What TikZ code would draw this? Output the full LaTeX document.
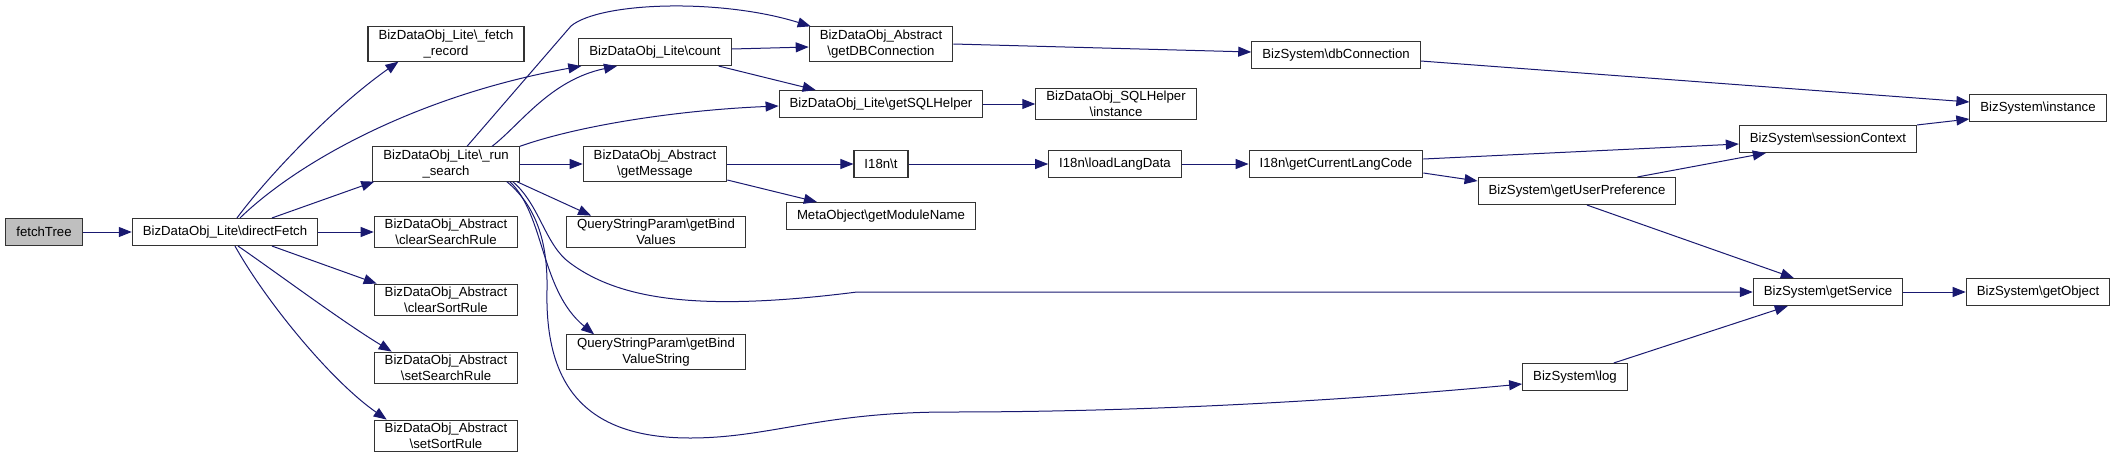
\documentclass[tikz,border=0pt]{standalone}
\usepackage{fontspec}
\setmainfont{Liberation Sans}
\usetikzlibrary{arrows.meta}
\definecolor{edgeblue}{HTML}{191970}
\definecolor{boxline}{HTML}{333333}
\definecolor{rootgray}{HTML}{BFBFBF}
\newcommand{\bs}{\textbackslash}

\begin{document}
\begin{tikzpicture}[
    x=1pt, y=-1pt,
    fbox/.style={
      draw=boxline, line width=1.1pt, fill=white, align=center,
      inner xsep=10.5pt, inner ysep=3pt, minimum height=27pt,
      font=\fontsize{13.2}{16}\selectfont
    },
    rootbox/.style={fbox, fill=rootgray},
    arr/.style={-{Triangle[length=13pt,width=10pt]}, line width=1pt, edgeblue},
  ]
    \useasboundingbox (0,0) rectangle (2117,464);

    \node[rootbox] (ft) at (44,232) {fetchTree};
    \node[fbox] (df) at (225,232) {BizDataObj\_Lite\bs directFetch};

    \node[fbox] (fr) at (446,44) {BizDataObj\_Lite\bs\_fetch\\\_record};
    \node[fbox] (rs) at (446,164) {BizDataObj\_Lite\bs\_run\\\_search};
    \node[fbox] (csr) at (446,232) {BizDataObj\_Abstract\\\bs clearSearchRule};
    \node[fbox] (cso) at (446,300) {BizDataObj\_Abstract\\\bs clearSortRule};
    \node[fbox] (ssr) at (446,368) {BizDataObj\_Abstract\\\bs setSearchRule};
    \node[fbox] (sso) at (446,436) {BizDataObj\_Abstract\\\bs setSortRule};

    \node[fbox] (cnt) at (655,52) {BizDataObj\_Lite\bs count};
    \node[fbox] (gm) at (655,164) {BizDataObj\_Abstract\\\bs getMessage};
    \node[fbox] (bv) at (656,232) {QueryStringParam\bs getBind\\Values};
    \node[fbox] (bvs) at (656,352) {QueryStringParam\bs getBind\\ValueString};

    \node[fbox] (gdb) at (881,44) {BizDataObj\_Abstract\\\bs getDBConnection};
    \node[fbox] (gsh) at (881,104) {BizDataObj\_Lite\bs getSQLHelper};
    \node[fbox] (t) at (881,164) {I18n\bs t};
    \node[fbox] (mod) at (881,216) {MetaObject\bs getModuleName};

    \node[fbox] (shi) at (1116,104) {BizDataObj\_SQLHelper\\\bs instance};
    \node[fbox] (lld) at (1115,164) {I18n\bs loadLangData};

    \node[fbox] (dbc) at (1336,55) {BizSystem\bs dbConnection};
    \node[fbox] (glc) at (1336,164) {I18n\bs getCurrentLangCode};

    \node[fbox] (gup) at (1577,191) {BizSystem\bs getUserPreference};
    \node[fbox] (log) at (1575,377) {BizSystem\bs log};

    \node[fbox] (sc) at (1828,139) {BizSystem\bs sessionContext};
    \node[fbox] (gs) at (1828,292) {BizSystem\bs getService};

    \node[fbox] (inst) at (2038,108) {BizSystem\bs instance};
    \node[fbox] (go) at (2038,292) {BizSystem\bs getObject};

    \draw[arr] (ft) -- (df);
    \draw[arr] ([xshift=12pt]df.north) .. controls (265,180) and (330,110) .. ([xshift=31pt]fr.south west);
    \draw[arr] ([xshift=15pt]df.north) .. controls (300,160) and (420,95) .. ([xshift=3pt]cnt.south west);
    \draw[arr] ([xshift=47pt]df.north) -- ([xshift=2pt]rs.south west);
    \draw[arr] (df) -- (csr);
    \draw[arr] ([xshift=47pt]df.south) -- ([xshift=3pt]cso.north west);
    \draw[arr] ([xshift=13pt]df.south) .. controls (280,275) and (340,320) .. ([xshift=18pt]ssr.north west);
    \draw[arr] ([xshift=10pt]df.south) .. controls (265,300) and (330,380) .. ([xshift=13pt]sso.north west);

    \draw[arr] ([xshift=21pt]rs.north) -- (571,26) .. controls (600,2) and (720,-2) .. ([xshift=2pt]gdb.north west);
    \draw[arr] ([xshift=46pt]rs.north) .. controls (520,125) and (550,80) .. ([xshift=-38pt]cnt.south);
    \draw[arr] (rs.north east) .. controls (580,125) and (680,110) .. ([yshift=-2pt]gsh.west);
    \draw[arr] (rs) -- (gm);
    \draw[arr] ([xshift=-3pt]rs.south east) -- ([xshift=25pt]bv.north west);
    \draw[arr] ([xshift=-10pt]rs.south east) .. controls (545,215) and (540,290) .. ([xshift=28pt]bvs.north west);
    \draw[arr] ([xshift=-7pt]rs.south east) .. controls (540,205) and (545,245) .. (570,263)
      .. controls (620,300) and (700,312) .. (857,292) -- (gs.west);
    \draw[arr] ([xshift=-13pt]rs.south east) .. controls (535,205) and (548,240) .. (547,290)
      .. controls (545,380) and (580,438) .. (690,438) .. controls (770,438) and (820,412) .. (950,412)
      .. controls (1150,412) and (1350,400) .. ([yshift=-7pt]log.west);

    \draw[arr] ([yshift=3pt]cnt.east) -- ([yshift=-3pt]gdb.west);
    \draw[arr] ([xshift=-13pt]cnt.south east) -- ([xshift=37pt]gsh.north west);
    \draw[arr] (gdb.east) -- ([yshift=3pt]dbc.west);
    \draw[arr] (gsh) -- (shi);
    \draw[arr] (gm) -- (t);
    \draw[arr] ([yshift=-16pt]gm.east) -- ([xshift=31pt]mod.north west);
    \draw[arr] (t) -- (lld);
    \draw[arr] (lld) -- (glc);
    \draw[arr] ([yshift=5pt]glc.east) -- ([yshift=-5pt]sc.west);
    \draw[arr] ([yshift=-9pt]glc.east) -- ([yshift=10pt]gup.west);
    \draw[arr] ([xshift=-39pt]gup.north east) -- ([xshift=27pt]sc.south west);
    \draw[arr] ([xshift=10pt]gup.south) -- ([xshift=41pt]gs.north west);
    \draw[arr] ([xshift=-14pt]log.north east) -- ([xshift=35pt]gs.south west);
    \draw[arr] ([yshift=-6pt]dbc.east) -- ([yshift=6pt]inst.west);
    \draw[arr] (sc.north east) -- ([yshift=-11pt]inst.west);
    \draw[arr] (gs) -- (go);
  \end{tikzpicture}
\end{document}
